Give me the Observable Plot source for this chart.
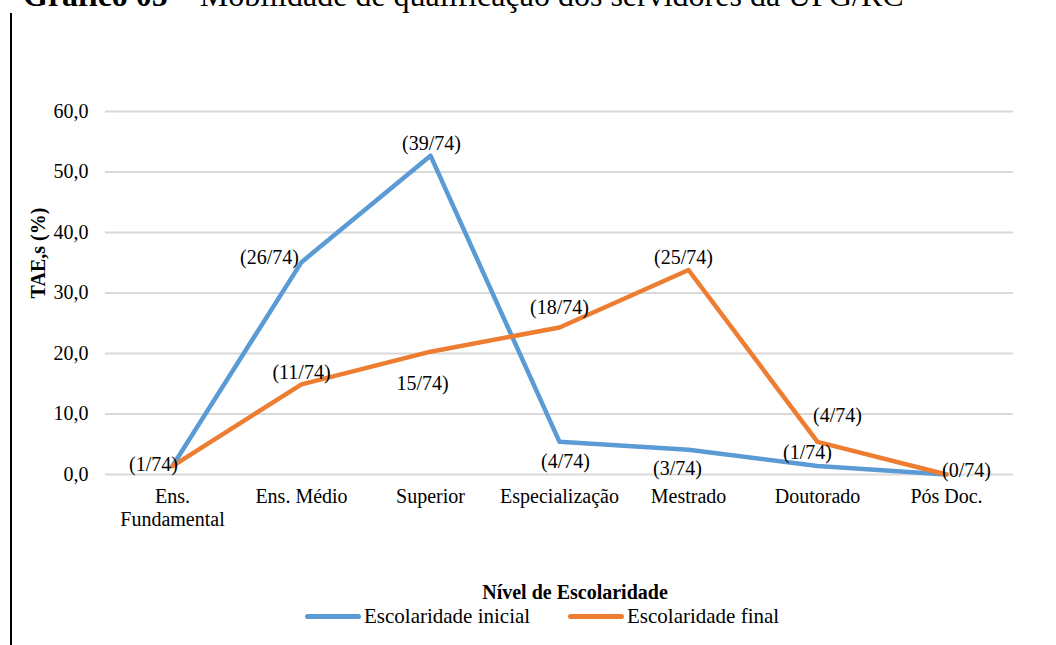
<!DOCTYPE html>
<html>
<head>
<meta charset="utf-8">
<script src="https://cdn.jsdelivr.net/npm/d3@7"></script>
<script src="https://cdn.jsdelivr.net/npm/@observablehq/plot@0.6"></script>
<style>
  html, body { margin: 0; padding: 0; background: #fff; width: 1056px; height: 645px; overflow: hidden; }
  body { position: relative; font-family: "Liberation Serif", "Times New Roman", serif; color: #000; }
  #title { position: absolute; left: 23px; top: -21px; font-size: 32px; line-height: 1; white-space: nowrap; }
  #vline { position: absolute; left: 10px; top: 13px; width: 2px; height: 640px; background: #000; }
  #chart { position: absolute; left: 0; top: 0; }
  #xlabel { position: absolute; left: 0; width: 1150px; top: 580px; text-align: center; font-size: 20px; font-weight: bold; line-height: 24px; }
  .leg { position: absolute; top: 604px; font-size: 21px; line-height: 24px; white-space: nowrap; }
  .sw { position: absolute; top: 614px; height: 5px; border-radius: 3px; }
</style>
</head>
<body>
<div id="title"><b>Gráfico 05</b> – Mobilidade de qualificação dos servidores da UFG/RC</div>
<div id="vline"></div>
<div id="chart"></div>
<div id="xlabel">Nível de Escolaridade</div>
<div class="sw" style="left:305px;width:56px;background:#5B9BD5"></div>
<div class="leg" style="left:364px">Escolaridade inicial</div>
<div class="sw" style="left:568px;width:56px;background:#ED7D31"></div>
<div class="leg" style="left:627px">Escolaridade final</div>
<script>
// ---- data ----
const categories = ["Ens. Fundamental", "Ens. Médio", "Superior", "Especialização", "Mestrado", "Doutorado", "Pós Doc."];
const tickLabels = ["Ens.\nFundamental", "Ens. Médio", "Superior", "Especialização", "Mestrado", "Doutorado", "Pós Doc."];
const inicialValues = [1.4, 35.1, 52.7, 5.4, 4.1, 1.4, 0.0];
const finalValues = [1.4, 14.9, 20.3, 24.3, 33.8, 5.4, 0.0];
const inicialLabels = ["(1/74)", "(26/74)", "(39/74)", "(4/74)", "(3/74)", "(1/74)", "(0/74)"];
const finalLabels = [null, "(11/74)", "15/74)", "(18/74)", "(25/74)", "(4/74)", null];
const yTicks = [0, 10, 20, 30, 40, 50, 60];
const seriesNames = ["Escolaridade inicial", "Escolaridade final"];

// ---- build ----
const rowsInicial = categories.map((c, i) => ({cat: c, v: inicialValues[i], label: inicialLabels[i]}));
const rowsFinal = categories.map((c, i) => ({cat: c, v: finalValues[i], label: finalLabels[i]}));

// label offsets (px) — styling only
const offInicial = [[-19, -1], [-32, -5], [1, -12], [6, 20], [-11, 19], [-10, -13], [20, -4]];
const offFinal = [null, [0, -12], [-8, 32], [0, -20], [-5, -12], [20, -26], null];

const labelMarks = [];
rowsInicial.forEach((r, i) => {
  if (r.label) labelMarks.push(Plot.text([r], {x: "cat", y: "v", text: "label", dx: offInicial[i][0], dy: offInicial[i][1], fontSize: 20, fill: "black"}));
});
rowsFinal.forEach((r, i) => {
  if (r.label) labelMarks.push(Plot.text([r], {x: "cat", y: "v", text: "label", dx: offFinal[i][0], dy: offFinal[i][1], fontSize: 20, fill: "black"}));
});

const tickMap = new Map(categories.map((c, i) => [c, tickLabels[i]]));

const chart = Plot.plot({
  width: 1056,
  height: 540,
  marginTop: 111,
  marginBottom: 66,
  marginLeft: 105,
  marginRight: 43,
  style: {fontFamily: "'Liberation Serif', 'Times New Roman', serif", fontSize: "20px", color: "black", background: "transparent"},
  x: {type: "point", domain: categories, padding: 0.5, label: null},
  y: {domain: [0, 60], label: null},
  marks: [
    Plot.gridY(yTicks, {stroke: "#d9d9d9", strokeWidth: 2, strokeOpacity: 1}),
    Plot.axisY(yTicks, {tickSize: 0, tickPadding: 17, fontSize: 20, tickFormat: d => d.toFixed(1).replace(".", ","), label: null}),
    Plot.axisX({tickSize: 0, tickPadding: 12, fontSize: 20, lineHeight: 1.15, tickFormat: d => tickMap.get(d), label: null}),
    Plot.text(["TAE,s (%)"], {frameAnchor: "left", textAnchor: "middle", dx: -67, dy: -40, rotate: -90, fontWeight: "bold", fontSize: 20, fill: "black"}),
    Plot.line(rowsInicial, {x: "cat", y: "v", stroke: "#5B9BD5", strokeWidth: 4.5, strokeLinejoin: "round", strokeLinecap: "round"}),
    Plot.line(rowsFinal, {x: "cat", y: "v", stroke: "#ED7D31", strokeWidth: 4.5, strokeLinejoin: "round", strokeLinecap: "round"}),
    ...labelMarks
  ]
});
document.getElementById("chart").appendChild(chart);
</script>
</body>
</html>
